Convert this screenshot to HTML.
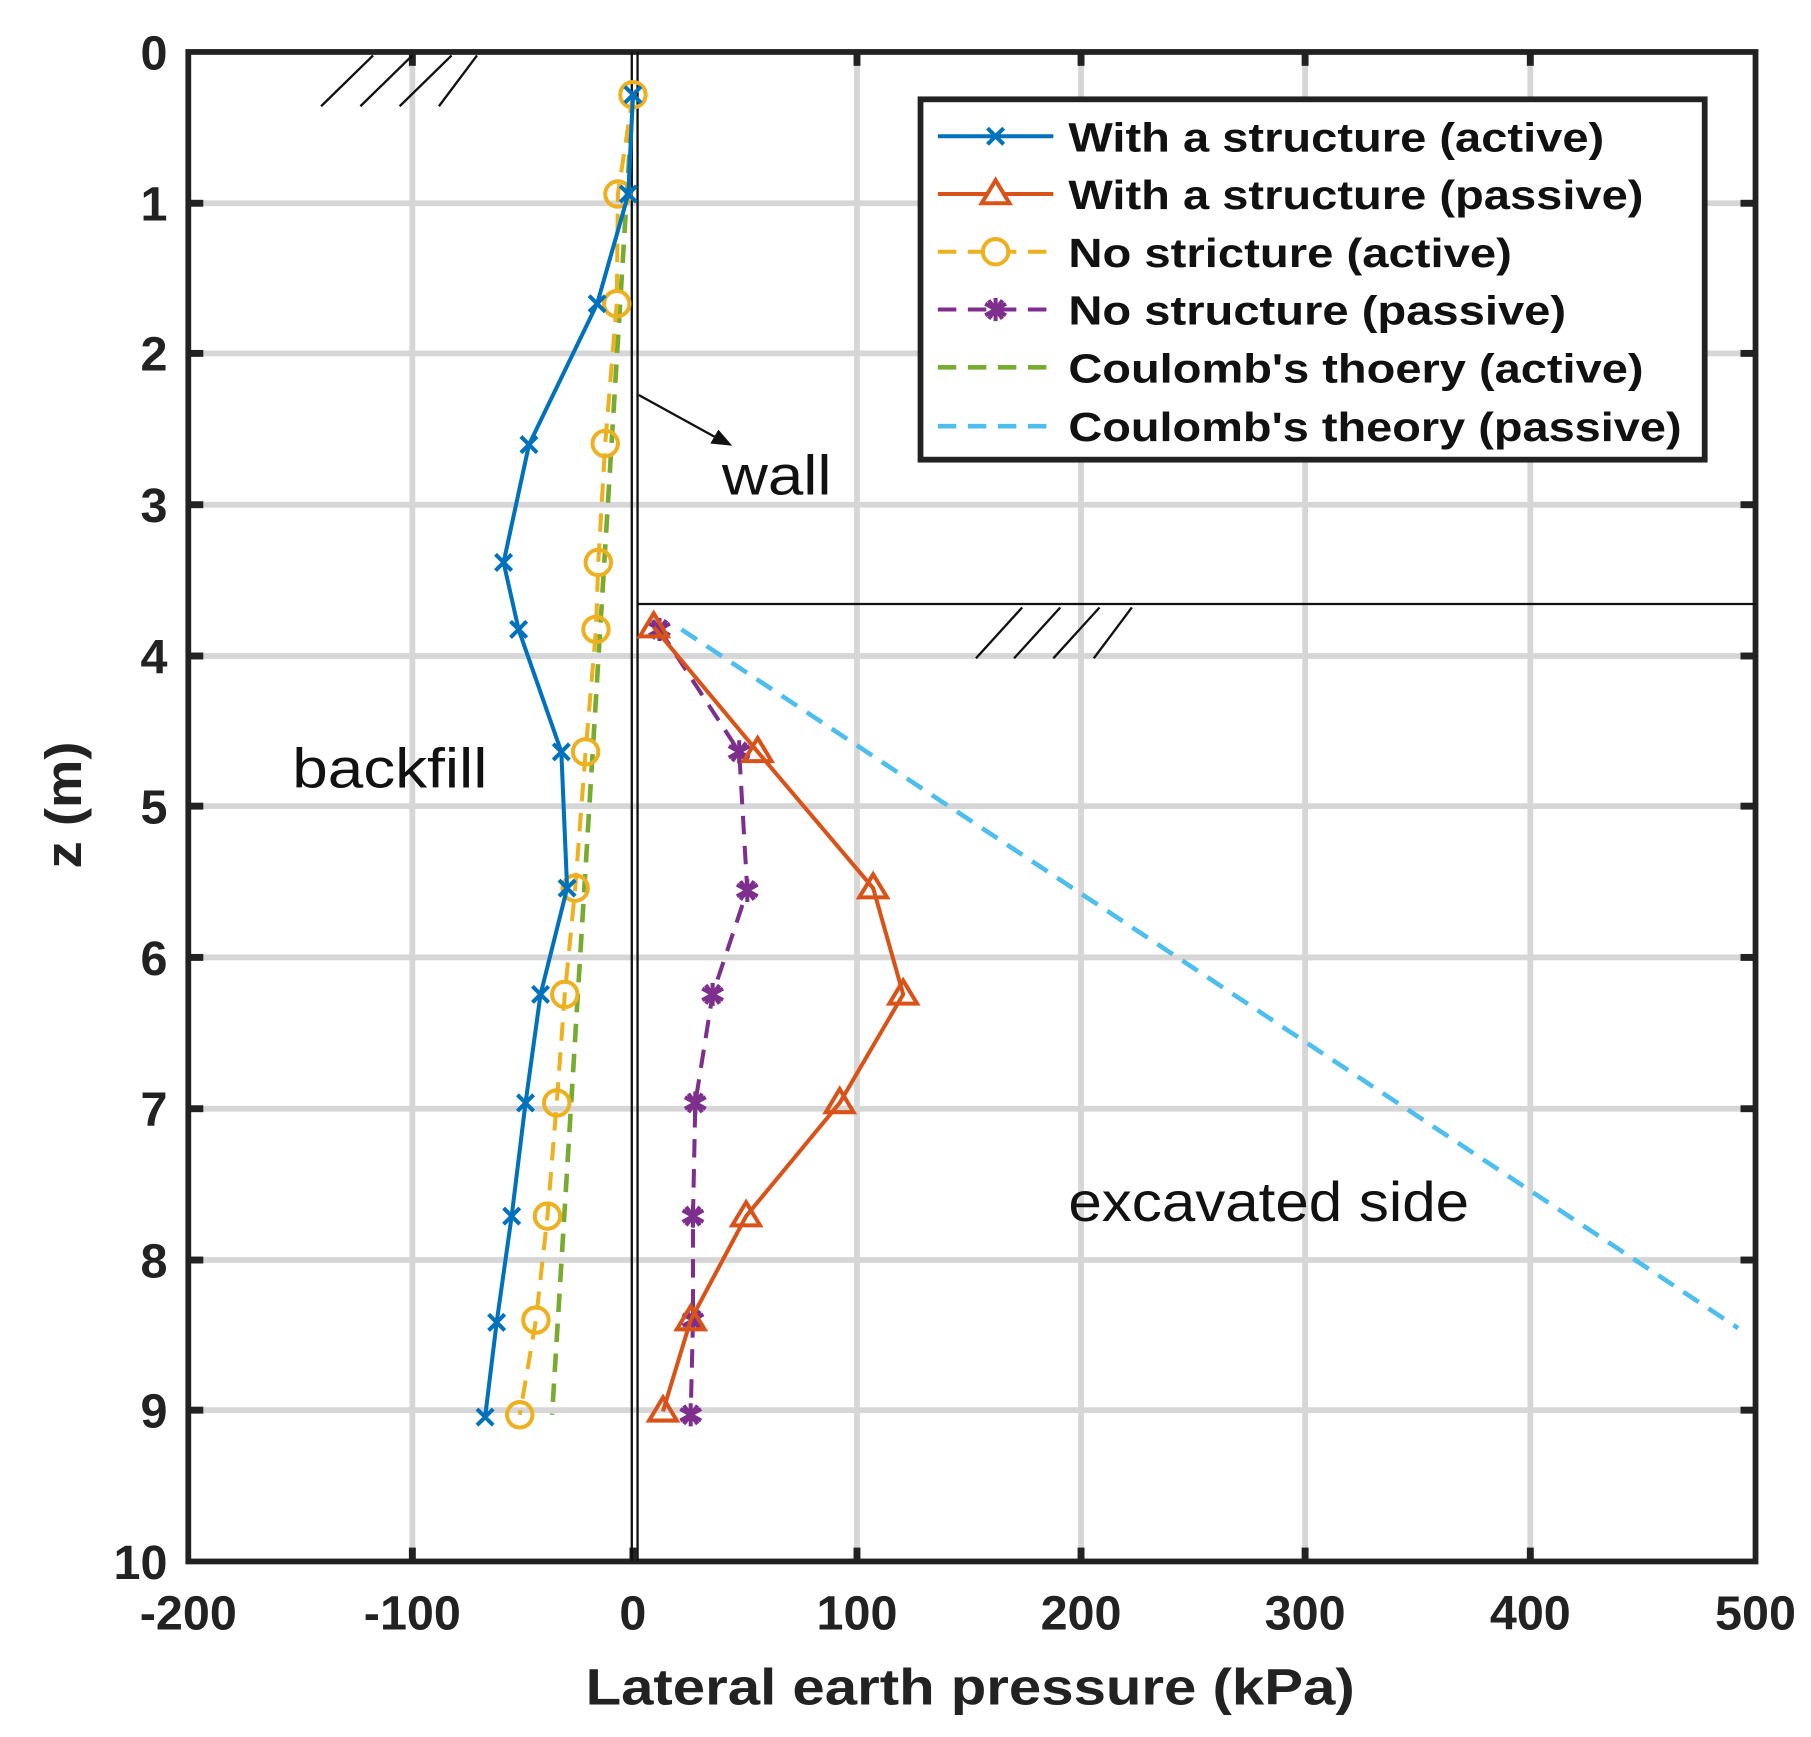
<!DOCTYPE html>
<html><head><meta charset="utf-8"><style>html,body{margin:0;padding:0;background:#fff}svg{display:block}</style></head>
<body>
<svg width="1811" height="1737" viewBox="0 0 1568 1504" xmlns="http://www.w3.org/2000/svg" font-family="Liberation Sans, Arial, sans-serif">
<defs>
<path id="st" d="M0,-10V10M-9,-5L9,5M-9,5L9,-5M-6,-8L6,8M-6,8L6,-8" stroke="#7e2f8e" stroke-width="3.5" fill="none"/>
</defs>
<rect width="1568" height="1504" fill="#fff"/>
<g stroke="#d6d6d6" stroke-width="5">
<line x1="357" y1="45" x2="357" y2="1352"/><line x1="742" y1="45" x2="742" y2="1352"/><line x1="936" y1="45" x2="936" y2="1352"/><line x1="1130" y1="45" x2="1130" y2="1352"/><line x1="1325" y1="45" x2="1325" y2="1352"/>
<line x1="163" y1="176" x2="1520" y2="176"/><line x1="163" y1="306" x2="1520" y2="306"/><line x1="163" y1="437" x2="1520" y2="437"/><line x1="163" y1="568" x2="1520" y2="568"/><line x1="163" y1="698" x2="1520" y2="698"/><line x1="163" y1="829" x2="1520" y2="829"/><line x1="163" y1="960" x2="1520" y2="960"/><line x1="163" y1="1091" x2="1520" y2="1091"/><line x1="163" y1="1221" x2="1520" y2="1221"/>
</g>
<g stroke="#222" stroke-width="6">
<line x1="357" y1="1352" x2="357" y2="1340"/><line x1="548" y1="1352" x2="548" y2="1340"/><line x1="742" y1="1352" x2="742" y2="1340"/><line x1="936" y1="1352" x2="936" y2="1340"/><line x1="1130" y1="1352" x2="1130" y2="1340"/><line x1="1325" y1="1352" x2="1325" y2="1340"/>
<line x1="357" y1="45" x2="357" y2="57"/><line x1="742" y1="45" x2="742" y2="57"/><line x1="936" y1="45" x2="936" y2="57"/><line x1="1130" y1="45" x2="1130" y2="57"/><line x1="1325" y1="45" x2="1325" y2="57"/>
<line x1="163" y1="176" x2="176" y2="176"/><line x1="163" y1="306" x2="176" y2="306"/><line x1="163" y1="437" x2="176" y2="437"/><line x1="163" y1="568" x2="176" y2="568"/><line x1="163" y1="698" x2="176" y2="698"/><line x1="163" y1="829" x2="176" y2="829"/><line x1="163" y1="960" x2="176" y2="960"/><line x1="163" y1="1091" x2="176" y2="1091"/><line x1="163" y1="1221" x2="176" y2="1221"/>
<line x1="1520" y1="176" x2="1507" y2="176"/><line x1="1520" y1="306" x2="1507" y2="306"/><line x1="1520" y1="437" x2="1507" y2="437"/><line x1="1520" y1="568" x2="1507" y2="568"/><line x1="1520" y1="698" x2="1507" y2="698"/><line x1="1520" y1="829" x2="1507" y2="829"/><line x1="1520" y1="960" x2="1507" y2="960"/><line x1="1520" y1="1091" x2="1507" y2="1091"/><line x1="1520" y1="1221" x2="1507" y2="1221"/>
</g>
<rect x="163" y="45" width="1357" height="1307" fill="none" stroke="#222" stroke-width="5"/>
<g stroke="#111" stroke-width="2">
<line x1="547" y1="45" x2="547" y2="1352"/><line x1="552" y1="45" x2="552" y2="1352"/>
<line x1="552" y1="523" x2="1520" y2="523"/>
<line x1="553" y1="342" x2="622" y2="380"/>
<line x1="278" y1="92" x2="323" y2="48"/><line x1="312" y1="92" x2="357" y2="48"/><line x1="346" y1="92" x2="391" y2="48"/><line x1="380" y1="92" x2="413" y2="48"/>
<line x1="845" y1="570" x2="885" y2="526"/><line x1="878" y1="570" x2="918" y2="526"/><line x1="912" y1="570" x2="952" y2="526"/><line x1="947" y1="570" x2="980" y2="526"/>
</g>
<polygon points="634,386 615,384 622,372" fill="#111"/>
<g font-size="48" fill="#111">
<text x="625" y="428" textLength="95" lengthAdjust="spacingAndGlyphs">wall</text>
<text x="253" y="682" textLength="169" lengthAdjust="spacingAndGlyphs">backfill</text>
<text x="925" y="1057" textLength="347" lengthAdjust="spacingAndGlyphs">excavated side</text>
</g>
<polyline points="548,82 478,1225" fill="none" stroke="#77ac30" stroke-width="4" stroke-dasharray="16,10"/>
<polyline points="590,545 1505,1150" fill="none" stroke="#4dbeee" stroke-width="4" stroke-dasharray="16,10"/>
<polyline points="548,82 535,168 534,263 524,384 518,487 516,545 507,651 498,769 489,861 482,955 474,1053 464,1143 450,1225" fill="none" stroke="#edb120" stroke-width="3.5" stroke-dasharray="16,10"/>
<g fill="none" stroke="#edb120" stroke-width="3.5">
<circle cx="548" cy="82" r="11"/><circle cx="535" cy="168" r="11"/><circle cx="534" cy="263" r="11"/><circle cx="524" cy="384" r="11"/><circle cx="518" cy="487" r="11"/><circle cx="516" cy="545" r="11"/><circle cx="507" cy="651" r="11"/><circle cx="498" cy="769" r="11"/><circle cx="489" cy="861" r="11"/><circle cx="482" cy="955" r="11"/><circle cx="474" cy="1053" r="11"/><circle cx="464" cy="1143" r="11"/><circle cx="450" cy="1225" r="11"/>
</g>
<polyline points="548,82 544,168 517,263 458,385 436,487 449,545 486,651 491,769 468,861 455,955 443,1053 430,1145 420,1227" fill="none" stroke="#0072bd" stroke-width="3.5"/>
<g stroke="#0072bd" stroke-width="3.5">
<path d="M541,75l14,14M555,75l-14,14 M537,161l14,14M551,161l-14,14 M510,256l14,14M524,256l-14,14 M451,378l14,14M465,378l-14,14 M429,480l14,14M443,480l-14,14 M442,538l14,14M456,538l-14,14 M479,644l14,14M493,644l-14,14 M484,762l14,14M498,762l-14,14 M461,854l14,14M475,854l-14,14 M448,948l14,14M462,948l-14,14 M436,1046l14,14M450,1046l-14,14 M423,1138l14,14M437,1138l-14,14 M413,1220l14,14M427,1220l-14,14"/>
</g>
<polyline points="571,545 640,651 647,771 617,861 602,955 600,1053 600,1143 598,1225" fill="none" stroke="#7e2f8e" stroke-width="3.5" stroke-dasharray="16,10"/>
<use href="#st" x="571" y="545"/><use href="#st" x="640" y="651"/><use href="#st" x="647" y="771"/><use href="#st" x="617" y="861"/><use href="#st" x="602" y="955"/><use href="#st" x="600" y="1053"/><use href="#st" x="600" y="1143"/><use href="#st" x="598" y="1225"/>
<polyline points="566,543 656,651 756,769 782,861 727,955 646,1053 598,1143 574,1222" fill="none" stroke="#d95319" stroke-width="3.5"/>
<g fill="none" stroke="#d95319" stroke-width="3.5">
<path d="M566,531l12,20h-24z M656,639l12,20h-24z M756,757l12,20h-24z M782,849l12,20h-24z M727,943l12,20h-24z M646,1041l12,20h-24z M598,1131l12,20h-24z M574,1210l12,20h-24z"/>
</g>
<rect x="797" y="86" width="679" height="312" fill="#fff" stroke="#222" stroke-width="5"/>
<line x1="812" y1="118" x2="912" y2="118" stroke="#0072bd" stroke-width="3.5"/>
<path d="M855,111l14,14M869,111l-14,14" stroke="#0072bd" stroke-width="3.5"/>
<line x1="812" y1="168" x2="912" y2="168" stroke="#d95319" stroke-width="3.5"/>
<path d="M862,156l12,20h-24z" fill="#fff" stroke="#d95319" stroke-width="3.5"/>
<line x1="812" y1="218" x2="912" y2="218" stroke="#edb120" stroke-width="3.5" stroke-dasharray="16,10"/>
<circle cx="862" cy="218" r="11" fill="#fff" stroke="#edb120" stroke-width="3.5"/>
<line x1="812" y1="268" x2="912" y2="268" stroke="#7e2f8e" stroke-width="3.5" stroke-dasharray="16,10"/>
<use href="#st" x="862" y="268"/>
<line x1="812" y1="318" x2="912" y2="318" stroke="#77ac30" stroke-width="4" stroke-dasharray="16,10"/>
<line x1="812" y1="369" x2="912" y2="369" stroke="#4dbeee" stroke-width="4" stroke-dasharray="16,10"/>
<g font-size="35" font-weight="bold" fill="#111" lengthAdjust="spacingAndGlyphs">
<text x="925" y="131" textLength="464" lengthAdjust="spacingAndGlyphs">With a structure (active)</text>
<text x="925" y="181" textLength="498" lengthAdjust="spacingAndGlyphs">With a structure (passive)</text>
<text x="925" y="231" textLength="384" lengthAdjust="spacingAndGlyphs">No stricture (active)</text>
<text x="925" y="281" textLength="431" lengthAdjust="spacingAndGlyphs">No structure (passive)</text>
<text x="925" y="331" textLength="498" lengthAdjust="spacingAndGlyphs">Coulomb's thoery (active)</text>
<text x="925" y="382" textLength="531" lengthAdjust="spacingAndGlyphs">Coulomb's theory (passive)</text>
</g>
<g font-size="42" font-weight="bold" fill="#222" text-anchor="end">
<text x="145" y="60">0</text><text x="145" y="191">1</text><text x="145" y="321">2</text><text x="145" y="452">3</text><text x="145" y="583">4</text><text x="145" y="713">5</text><text x="145" y="844">6</text><text x="145" y="975">7</text><text x="145" y="1106">8</text><text x="145" y="1236">9</text><text x="145" y="1367">10</text>
</g>
<g font-size="42" font-weight="bold" fill="#222" text-anchor="middle">
<text x="163" y="1411">-200</text><text x="357" y="1411">-100</text><text x="548" y="1411">0</text><text x="742" y="1411">100</text><text x="936" y="1411">200</text><text x="1130" y="1411">300</text><text x="1325" y="1411">400</text><text x="1520" y="1411">500</text>
<text x="840" y="1476" font-size="44" textLength="666" lengthAdjust="spacingAndGlyphs">Lateral earth pressure (kPa)</text>
<text transform="translate(70,697) rotate(-90)" font-size="44" textLength="110" lengthAdjust="spacingAndGlyphs">z (m)</text>
</g>
</svg>
</body></html>
